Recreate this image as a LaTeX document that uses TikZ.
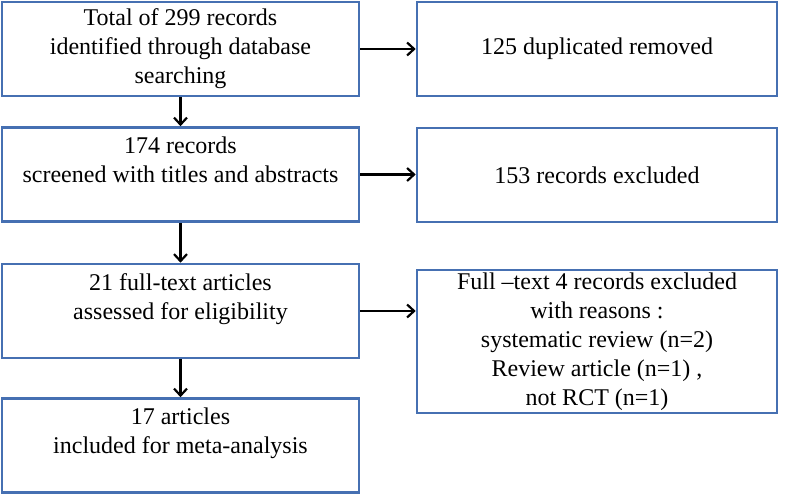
\documentclass[tikz,border=0pt]{standalone}
\usepackage{fontspec}
\setmainfont{Liberation Serif}
\usetikzlibrary{arrows.meta}
\definecolor{boxblue}{RGB}{70,112,178}
\tikzset{
  flowbox/.style={draw=boxblue, line width=2.6pt, fill=white, rectangle, align=center,
    minimum width=357pt, minimum height=94pt, inner sep=2pt,
    font=\fontsize{24}{29}\selectfont},
  flowarrow/.style={line width=2.4pt, -{Straight Barb[length=7pt,width=13pt,line width=2.2pt]}}
}

\begin{document}
\begin{tikzpicture}[x=1pt,y=-1pt]
        \useasboundingbox (0,0) rectangle (800,495);
        % left column
        \node[flowbox] (ident) at (180.5,49) {Total of 299 records\\identified through database\\searching};
        \node[flowbox] (screen) at (180.5,174.5) {174 records\\screened with titles and abstracts\\~};
        \node[flowbox] (full) at (180.5,311) {21 full-text articles\\assessed for eligibility\\~};
        \node[flowbox] (incl) at (180.5,445.5) {17 articles\\included for meta-analysis\\~};
        % right column
        \node[flowbox, minimum width=360pt] (dup) at (597,49) {125 duplicated removed};
        \node[flowbox, minimum width=360pt] (excl) at (597,175) {153 records excluded};
        \node[flowbox, minimum width=360pt, minimum height=143pt] (reasons) at (597,341.5) {Full --text 4 records excluded\\with reasons :\\systematic review (n=2)\\Review article (n=1) ,\\not RCT (n=1)};
        % down arrows
        \draw[flowarrow] (ident) -- (screen);
        \draw[flowarrow] (screen) -- (full);
        \draw[flowarrow] (full) -- (incl);
        % side arrows
        \draw[flowarrow] (ident) -- (dup);
        \draw[flowarrow] (screen.east) -- (screen.east -| excl.west);
        \draw[flowarrow] (full.east) -- (full.east -| reasons.west);
\end{tikzpicture}
\end{document}
